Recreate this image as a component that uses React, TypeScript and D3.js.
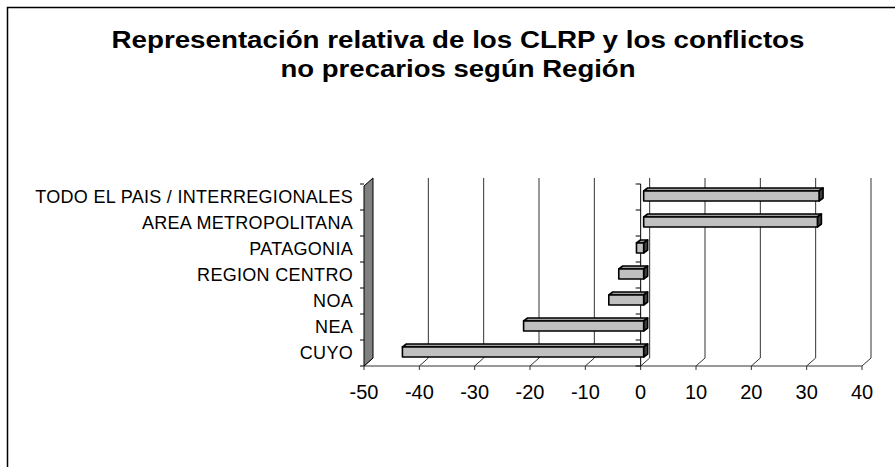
import React from 'react';
import * as d3 from 'd3';

const categories = [
  'TODO EL PAIS / INTERREGIONALES',
  'AREA METROPOLITANA',
  'PATAGONIA',
  'REGION CENTRO',
  'NOA',
  'NEA',
  'CUYO',
];
const values = [31.7, 31.4, -1.3, -4.5, -6.3, -21.7, -43.6];
const xTicks = [-50, -40, -30, -20, -10, 0, 10, 20, 30, 40];
const titleLines = [
  'Representación relativa de los CLRP y los conflictos',
  'no precarios según Región',
];
const titleWidths = [693, 355];

const W = 895;
const H = 467;
// 3D depth offset of the back wall
const DX = 9;
const DY = -8;
// bar depth
const BDX = 4;
const BDY = -3;

const App: React.FC = () => {
  const x = d3.scaleLinear().domain([-50, 40]).range([364, 862]);
  const y = d3
    .scaleBand<string>()
    .domain(categories.slice().reverse())
    .range([366, 184]);
  const floorY = 366;
  const topY = 186;
  const barH = 10;
  const bandEdges = categories.map((c) => y(c) as number).concat([floorY]);

  return (
    <svg width={W} height={H} style={{ position: 'absolute', left: 0, top: 0 }}>
      <rect x={0} y={0} width={W} height={H} fill="#fff" />
      <rect x={7.5} y={7.5} width={W + 10} height={H} fill="none" stroke="#000" strokeWidth={1.5} />

      <g fontFamily="Liberation Sans, Arial, sans-serif" fontWeight="bold" fontSize={23} textAnchor="middle">
        {titleLines.map((t, i) => (
          <text key={t} x={458} y={48 + i * 29} textLength={titleWidths[i]} lengthAdjust="spacingAndGlyphs">
            {t}
          </text>
        ))}
      </g>

      {/* back wall gridlines */}
      {xTicks.slice(1).map((t) => (
        <line key={'g' + t} x1={x(t) + DX} x2={x(t) + DX} y1={topY + DY} y2={floorY + DY} stroke="#333" strokeWidth={1} />
      ))}

      {/* floor diagonals and ticks */}
      {xTicks.map((t) => (
        <g key={'f' + t} stroke="#333" strokeWidth={1}>
          <line x1={x(t)} y1={floorY} x2={x(t) + DX} y2={floorY + DY} />
          <line x1={x(t)} y1={floorY} x2={x(t)} y2={floorY + 4} />
        </g>
      ))}
      <line x1={x(-50)} x2={x(40)} y1={floorY} y2={floorY} stroke="#333" strokeWidth={1} />

      {/* left side wall */}
      <polygon
        points={`${x(-50)},${floorY} ${x(-50)},${topY} ${x(-50) + DX},${topY + DY} ${x(-50) + DX},${floorY + DY}`}
        fill="#808080"
        stroke="#000"
        strokeWidth={1}
      />
      {bandEdges.map((e, i) => (
        <line key={'lt' + i} x1={x(-50) - 4} x2={x(-50)} y1={e} y2={e} stroke="#000" />
      ))}

      {/* category axis at zero */}
      <line x1={x(0)} x2={x(0)} y1={topY - 2} y2={floorY} stroke="#000" />
      {bandEdges.map((e, i) => (
        <line key={'zt' + i} x1={x(0) - 5} x2={x(0)} y1={e} y2={e} stroke="#000" />
      ))}

      {/* bars */}
      {categories.map((c, i) => {
        const v = values[i];
        const cy = (y(c) as number) + y.bandwidth() / 2 - 1;
        const x0 = x(0) + 3;
        const x1 = x(v) + 3;
        const left = Math.min(x0, x1);
        const right = Math.max(x0, x1);
        const top = cy - barH / 2;
        const bottom = cy + barH / 2;
        return (
          <g key={c} stroke="#000" strokeWidth={1.6} strokeLinejoin="round">
            <polygon
              points={`${left},${top} ${left + BDX},${top + BDY} ${right + BDX},${top + BDY} ${right},${top}`}
              fill="#a0a0a0"
            />
            <polygon
              points={`${right},${top} ${right + BDX},${top + BDY} ${right + BDX},${bottom + BDY} ${right},${bottom}`}
              fill="#404040"
            />
            <rect x={left} y={top} width={right - left} height={barH} fill="#c0c0c0" />
          </g>
        );
      })}

      {/* category labels */}
      <g fontFamily="Liberation Sans, Arial, sans-serif" fontSize={18} textAnchor="end" letterSpacing={0.3}>
        {categories.map((c) => (
          <text key={c} x={353} y={(y(c) as number) + y.bandwidth() / 2 + 6}>
            {c}
          </text>
        ))}
      </g>

      {/* value axis labels */}
      <g fontFamily="Liberation Sans, Arial, sans-serif" fontSize={20} textAnchor="middle">
        {xTicks.map((t) => (
          <text key={'l' + t} x={x(t)} y={399}>
            {t}
          </text>
        ))}
      </g>
    </svg>
  );
};

export default App;
